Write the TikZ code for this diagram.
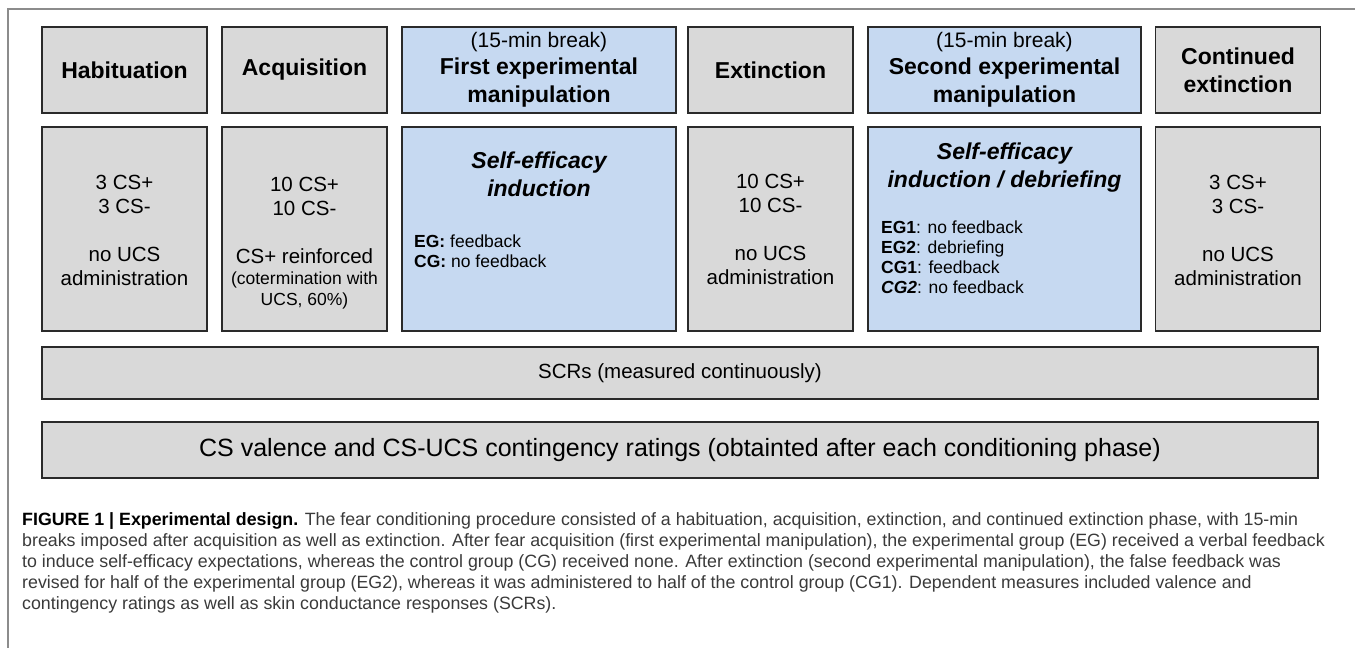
\documentclass[tikz,border=0pt]{standalone}
\usepackage{fontspec}
\setmainfont{Liberation Sans}
\usetikzlibrary{positioning}
\definecolor{cellgray}{HTML}{D9D9D9}
\definecolor{cellblue}{HTML}{C6D9F1}
\definecolor{edgegray}{HTML}{2A2A2A}
\definecolor{framegray}{HTML}{8C8C8C}
\definecolor{captext}{HTML}{3A3A3A}
\newcommand{\headfont}{\fontsize{23}{28}\selectfont\bfseries}
\newcommand{\bodyfont}{\fontsize{20.5}{24}\selectfont}
\newcommand{\notefont}{\fontsize{17.5}{20}\selectfont}
\newcommand{\capfont}{\fontsize{17.8}{21}\selectfont}
\tikzset{
  cell/.style={draw=edgegray, line width=1.4pt, fill=cellgray, inner sep=0pt, align=center},
  manip/.style={cell, fill=cellblue},
  narrow/.style={minimum width=165pt},
  wide/.style={minimum width=274pt},
  toprow/.style={minimum height=86pt, font=\headfont},
  botrow/.style={minimum height=204pt},
  bar/.style={cell, minimum width=1276pt, font=\bodyfont},
  txt/.style={inner sep=0pt, align=center, font=\bodyfont},
  grp/.style={inner sep=0pt, align=left, anchor=west, font=\notefont}
}

\begin{document}
\begin{tikzpicture}[x=1pt, y=-1pt]
  \useasboundingbox (0,0) rectangle (1355,648);
  \draw [framegray, line width=1.5pt] (8,648) -- (8,9) -- (1355,9);

  % phases
  \node [cell, narrow, toprow] (hab) at (124.5,70) {Habituation};
  \node [cell, narrow, toprow] (acq) at (304.5,70) {Acquisition};
  \node [manip, wide, toprow] (man1) at (539,70)
    {{\fontsize{21}{26}\selectfont\mdseries (15-min break)}\\[-1pt] First experimental\\ manipulation};
  \node [cell, narrow, toprow] (ext) at (770.5,70) {Extinction};
  \node [manip, wide, toprow, minimum width=273pt] (man2) at (1004.5,70)
    {{\fontsize{21}{26}\selectfont\mdseries (15-min break)}\\[-1pt] Second experimental\\ manipulation};
  \node [cell, narrow, toprow] (cext) at (1238,70) {Continued\\ extinction};

  % contents
  \node [cell, narrow, botrow] (habb) at (124.5,229) {};
  \node [cell, narrow, botrow] (acqb) at (304.5,229) {};
  \node [manip, wide, botrow] (man1b) at (539,229) {};
  \node [cell, narrow, botrow] (extb) at (770.5,229) {};
  \node [manip, wide, botrow, minimum width=273pt] (man2b) at (1004.5,229) {};
  \node [cell, narrow, botrow] (cextb) at (1238,229) {};

  \node [txt] (habt) at (124.5,230) {3 CS+\\ 3 CS-\\[24pt] no UCS\\ administration};
  \node [txt] (acqt) at (304.5,243)
    {10 CS+\\ 10 CS-\\[24pt] CS+ reinforced\\[-3pt] {\notefont (cotermination with}\\[-3pt] {\notefont UCS, 60\%)}};
  \node [txt, font=\headfont\itshape] (man1t) at (539,174) {Self-efficacy\\ induction};
  \node [grp] (man1g) at (414,251.5) {\textbf{EG:} feedback\\ \textbf{CG:} no feedback};
  \node [txt] (extt) at (770.5,229) {10 CS+\\ 10 CS-\\[24pt] no UCS\\ administration};
  \node [txt, font=\headfont\itshape] (man2t) at (1004.5,168) {Self-efficacy\\ induction / debriefing};
  \node [grp] (man2g) at (881,257)
    {\textbf{EG1}: no feedback\\ \textbf{EG2}: debriefing\\ \textbf{CG1}: feedback\\ \textbf{\textit{CG2}}: no feedback};
  \node [txt] (cextt) at (1238,230) {3 CS+\\ 3 CS-\\[24pt] no UCS\\ administration};

  % measures
  \node [bar, minimum height=52pt] (scr) at (680,373) {SCRs (measured continuously)};
  \node [bar, minimum height=56pt, font=\fontsize{25}{30}\selectfont] (rate) at (680,450)
    {CS valence and CS-UCS contingency ratings (obtainted after each conditioning phase)};

  % caption
  \node [inner sep=0pt, anchor=north west, align=left, font=\capfont, text=captext] (cap) at (22,512)
    {{\color{black}\textbf{FIGURE 1 | Experimental design.}} The fear conditioning procedure consisted of a habituation, acquisition, extinction, and continued extinction phase, with 15-min\\
     breaks imposed after acquisition as well as extinction. After fear acquisition (first experimental manipulation), the experimental group (EG) received a verbal feedback\\
     to induce self-efficacy expectations, whereas the control group (CG) received none. After extinction (second experimental manipulation), the false feedback was\\
     revised for half of the experimental group (EG2), whereas it was administered to half of the control group (CG1). Dependent measures included valence and\\
     contingency ratings as well as skin conductance responses (SCRs).};
\end{tikzpicture}
\end{document}
